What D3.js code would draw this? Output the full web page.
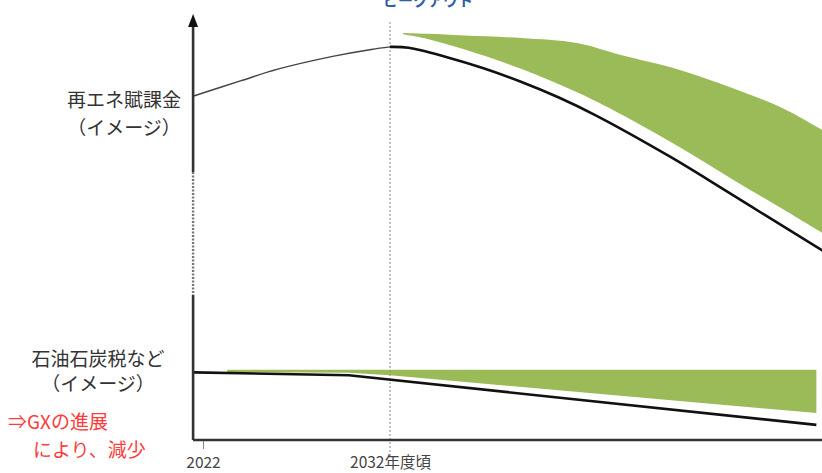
<!DOCTYPE html>
<html><head><meta charset="utf-8">
<script src="https://cdn.jsdelivr.net/npm/d3@7"></script>
<style>
html,body{margin:0;padding:0;background:#fff;}
text{font-family:"Noto Sans CJK JP","Noto Sans",sans-serif;}
</style></head>
<body>
<svg id="chart" width="822" height="473"></svg>
<script>
// ---- data (years on x, index "image" level on y, 0-100) ----
const tickYears = [2022, 2032];
const tickLabels = ["2022", "2032年度頃"];

// 再エネ賦課金 (black line) before and after the peak
const renewPastYears = [2021.5, 2024, 2026, 2029, 2031, 2032];
const renewPastValues = [81.9, 85.5, 88.3, 91.4, 93.0, 93.6];
const renewFutureYears = [2032, 2033, 2035, 2037, 2039, 2041, 2043, 2047, 2049, 2052, 2055.2];
const renewFutureValues = [93.6, 93.4, 91.2, 88.5, 85.3, 81.6, 77.3, 67.4, 62.0, 53.7, 44.9];

// green band above the renewable surcharge line
const renewBandYears = [2032.7, 2034, 2036, 2039, 2042, 2044.3, 2047.5, 2050.3, 2053, 2055.2];
const renewBandTop = [96.9, 96.7, 96.3, 95.7, 94.5, 91.7, 88.1, 83.8, 79.0, 73.6];
const renewBandBottom = [96.6, 95.5, 93.0, 88.4, 82.8, 77.7, 69.7, 62.1, 55.0, 49.1];

// 石油石炭税など (black line)
const fossilYears = [2021.5, 2029.8, 2054.8];
const fossilValues = [16.1, 15.4, 3.6];

// green band above the fossil tax line
const fossilBandYears = [2023.3, 2029.8, 2032, 2054.8];
const fossilBandTop = [16.7, 16.7, 16.7, 16.7];
const fossilBandBottom = [16.2, 16.0, 15.4, 6.4];

const peakLabel = "ピークアウト";
const renewLabel = ["再エネ賦課金", "（イメージ）"];
const fossilLabel = ["石油石炭税など", "（イメージ）"];
const gxLabel = ["⇒GXの進展", "により、減少"];

// ---- drawing ----
const svg = d3.select("#chart");
const x = d3.scaleLinear().domain([2022, 2032]).range([203, 390]);
const y = d3.scaleLinear().domain([0, 100]).range([440, 20]);
const xMin = 2021.47, xMax = 2055.4;
const green = "#9bbb59";
const smooth = d3.curveCatmullRom.alpha(0.5);

const zip = (xs, ys) => xs.map((d, i) => [d, ys[i]]);
const band = (xs, t, b) => xs.map((d, i) => ({x: d, t: t[i], b: b[i]}));

const area = d3.area().x(d => x(d.x)).y0(d => y(d.b)).y1(d => y(d.t)).curve(smooth);
const line = d3.line().x(d => x(d[0])).y(d => y(d[1])).curve(smooth);
const lineLin = d3.line().x(d => x(d[0])).y(d => y(d[1]));

// green bands
svg.append("path").attr("d", area(band(renewBandYears, renewBandTop, renewBandBottom))).attr("fill", green);
svg.append("path").attr("d", d3.area().x(d => x(d.x)).y0(d => y(d.b)).y1(d => y(d.t))(band(fossilBandYears, fossilBandTop, fossilBandBottom))).attr("fill", green);

// dotted 2032 guide
svg.append("line").attr("x1", x(2032)).attr("x2", x(2032)).attr("y1", 22).attr("y2", 456)
  .attr("stroke", "#8a8a8a").attr("stroke-width", 1).attr("stroke-dasharray", "2,2");

// lines
svg.append("path").attr("d", line(zip(renewPastYears, renewPastValues))).attr("fill", "none")
  .attr("stroke", "#444").attr("stroke-width", 1.5);
svg.append("path").attr("d", line(zip(renewFutureYears, renewFutureValues))).attr("fill", "none")
  .attr("stroke", "#111").attr("stroke-width", 2.6);
svg.append("path").attr("d", lineLin(zip(fossilYears, fossilValues))).attr("fill", "none")
  .attr("stroke", "#111").attr("stroke-width", 2.6);

// x axis
const xAxis = d3.axisBottom(x).tickValues(tickYears).tickFormat((d, i) => tickLabels[i])
  .tickSize(9).tickSizeOuter(0).tickPadding(8);
const gx = svg.append("g").attr("transform", `translate(0,${y(0)})`).call(xAxis);
gx.select(".domain").remove();
gx.selectAll(".tick line").attr("stroke", "#888").attr("stroke-width", 1)
  .filter(d => d === 2032).remove();
gx.selectAll(".tick text").attr("font-size", 15.5).attr("fill", "#444");
svg.append("line").attr("x1", x(xMin)).attr("x2", x(xMax)).attr("y1", y(0)).attr("y2", y(0))
  .attr("stroke", "#333").attr("stroke-width", 2.6);

// y axis (with broken dashed middle)
const ax = x(xMin);
svg.append("line").attr("x1", ax).attr("x2", ax).attr("y1", 26).attr("y2", 172).attr("stroke", "#333").attr("stroke-width", 2.6);
svg.append("line").attr("x1", ax).attr("x2", ax).attr("y1", 172).attr("y2", 295).attr("stroke", "#777").attr("stroke-width", 2.4).attr("stroke-dasharray", "2,1.5");
svg.append("line").attr("x1", ax).attr("x2", ax).attr("y1", 295).attr("y2", y(0)).attr("stroke", "#333").attr("stroke-width", 2.6);
svg.append("path").attr("d", `M${ax},14 L${ax - 5},27 L${ax + 5},27 Z`).attr("fill", "#111");

// labels
svg.append("text").attr("x", 428).attr("y", 6).attr("text-anchor", "middle").attr("font-size", 15)
  .attr("font-weight", "bold").attr("fill", "#2e5ea6").text(peakLabel);

const lab = (lines, cx, ys, size, fill, anchor) => lines.forEach((t, i) =>
  svg.append("text").attr("x", Array.isArray(cx) ? cx[i] : cx).attr("y", ys[i]).attr("text-anchor", anchor)
    .attr("font-size", size).attr("fill", fill).text(t));
lab(renewLabel, 124, [107, 135], 19, "#333", "middle");
lab(fossilLabel, 98, [366, 391], 19, "#333", "middle");
lab(gxLabel, [8, 33], [429, 457], 19, "#ff3b3b", "start");
</script>
</body></html>
